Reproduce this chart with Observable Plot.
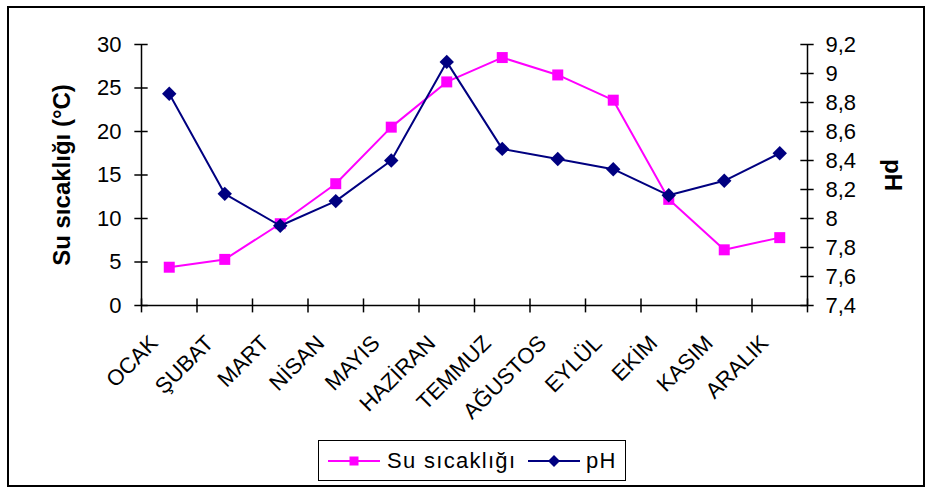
<!DOCTYPE html>
<html><head><meta charset="utf-8">
<script src="https://cdn.jsdelivr.net/npm/d3@7"></script>
<script src="https://cdn.jsdelivr.net/npm/@observablehq/plot@0.6"></script>
<style>
body{margin:0;background:#fff;}
#wrap{position:relative;width:931px;height:491px;font-family:"Liberation Sans",Arial,sans-serif;overflow:hidden;}
#frame{position:absolute;left:7px;top:6px;width:918px;height:481px;border:2px solid #000;box-sizing:border-box;pointer-events:none;}
#legend{position:absolute;left:318px;top:440px;width:308px;height:41px;border:1.5px solid #000;box-sizing:border-box;background:#fff;font-size:22px;letter-spacing:1.3px;}
#legend svg{position:absolute;left:0;top:0;}
#legend span{position:absolute;top:7px;}
g[aria-label="left-ticks"] text, g[aria-label="right-ticks"] text{letter-spacing:1.5px;}
</style></head>
<body>
<div id="wrap"><div id="frame"></div><div id="legend"></div></div>
<script>
const months = ["OCAK","ŞUBAT","MART","NİSAN","MAYIS","HAZİRAN","TEMMUZ","AĞUSTOS","EYLÜL","EKİM","KASIM","ARALIK"];
const temps = [4.4, 5.3, 9.4, 14.0, 20.5, 25.7, 28.5, 26.5, 23.6, 12.2, 6.4, 7.8];
const phs = [8.86, 8.17, 7.95, 8.12, 8.40, 9.08, 8.48, 8.41, 8.34, 8.16, 8.26, 8.45];
const tempTicks = [0, 5, 10, 15, 20, 25, 30];
const phTicks = [7.4, 7.6, 7.8, 8.0, 8.2, 8.4, 8.6, 8.8, 9.0, 9.2];
const phTickLabels = ["7,4","7,6","7,8","8","8,2","8,4","8,6","8,8","9","9,2"];
const tempLabel = "Su sıcaklığı (°C)";
const phLabel = "pH";
const tempColor = "#FF00FF", phColor = "#000080";

const tMax = tempTicks[tempTicks.length-1];
const phMin = phTicks[0], phMax = phTicks[phTicks.length-1];
const phToT = v => (v - phMin) / (phMax - phMin) * tMax;

const data = months.map((m, i) => ({m, i: i + 0.5, t: temps[i], p: phToT(phs[i])}));
const n = months.length;

const chart = Plot.plot({
  width: 931, height: 491,
  marginLeft: 141, marginRight: 124, marginTop: 44, marginBottom: 186,
  x: {domain: [0, n], axis: null},
  y: {domain: [0, tMax], axis: null},
  style: {fontFamily: "'Liberation Sans', Arial, sans-serif", fontSize: "22px", color: "#000", background: "transparent"},
  marks: [
    Plot.ruleY([0], {stroke: "#000", strokeWidth: 1.5}),
    Plot.ruleX([0, n], {stroke: "#000", strokeWidth: 1.5}),
    Plot.ruleX(d3.range(n + 1), {y1: -0.85, y2: 0.75, stroke: "#000", strokeWidth: 1.5}),
    Plot.ruleY(tempTicks, {x1: -0.12, x2: 0.12, stroke: "#000", strokeWidth: 1.5}),
    Plot.ruleY(phTicks.map(phToT), {x1: n - 0.12, x2: n + 0.12, stroke: "#000", strokeWidth: 1.5}),
    Plot.text(tempTicks, {x: 0, y: d => d, text: d => String(d), textAnchor: "end", dx: -20, fill: "#000", ariaLabel: "left-ticks"}),
    Plot.text(phTicks, {x: n, y: d => phToT(d), text: (d, k) => phTickLabels[k], textAnchor: "start", dx: 18, fill: "#000", ariaLabel: "right-ticks"}),
    Plot.axisX(data.map(d => d.i), {tickFormat: d => months[Math.round(d - 0.5)], tickRotate: -45, tickSize: 0, tickPadding: 0, textAnchor: "end", dx: -15, dy: 34, fontSize: 22, fill: "#000", label: null}),
    Plot.text([tempLabel], {frameAnchor: "left", textAnchor: "middle", dx: -79, rotate: -90, fontWeight: "bold", fontSize: 24, fill: "#000"}),
    Plot.text([phLabel], {frameAnchor: "right", textAnchor: "middle", dx: 85, rotate: 90, fontWeight: "bold", fontSize: 24, fill: "#000"}),
    Plot.line(data, {x: "i", y: "t", stroke: tempColor, strokeWidth: 2}),
    Plot.dot(data, {x: "i", y: "t", symbol: "square", fill: tempColor, r: 6.2}),
    Plot.line(data, {x: "i", y: "p", stroke: phColor, strokeWidth: 2}),
    Plot.dot(data, {x: "i", y: "p", symbol: "diamond2", fill: phColor, r: 6.5})
  ]
});
document.getElementById("wrap").prepend(chart);

// legend
const lg = document.getElementById("legend");
const items = [
  {label: "Su sıcaklığı", color: tempColor, sym: "square", x0: 9, tx: 68},
  {label: phLabel, color: phColor, sym: "diamond", x0: 209, tx: 267}
];
let svg = `<svg width="308" height="41">`;
for (const it of items) {
  svg += `<line x1="${it.x0}" x2="${it.x0 + 52}" y1="20" y2="20" stroke="${it.color}" stroke-width="2"/>`;
  const cx = it.x0 + 26;
  if (it.sym === "square") svg += `<rect x="${cx - 4.5}" y="15.5" width="9" height="9" fill="${it.color}"/>`;
  else svg += `<path d="M${cx},14 L${cx + 6},20 L${cx},26 L${cx - 6},20Z" fill="${it.color}"/>`;
}
svg += `</svg>`;
lg.innerHTML = svg + items.map(it => `<span style="left:${it.tx}px">${it.label}</span>`).join("");
</script>
</body></html>
